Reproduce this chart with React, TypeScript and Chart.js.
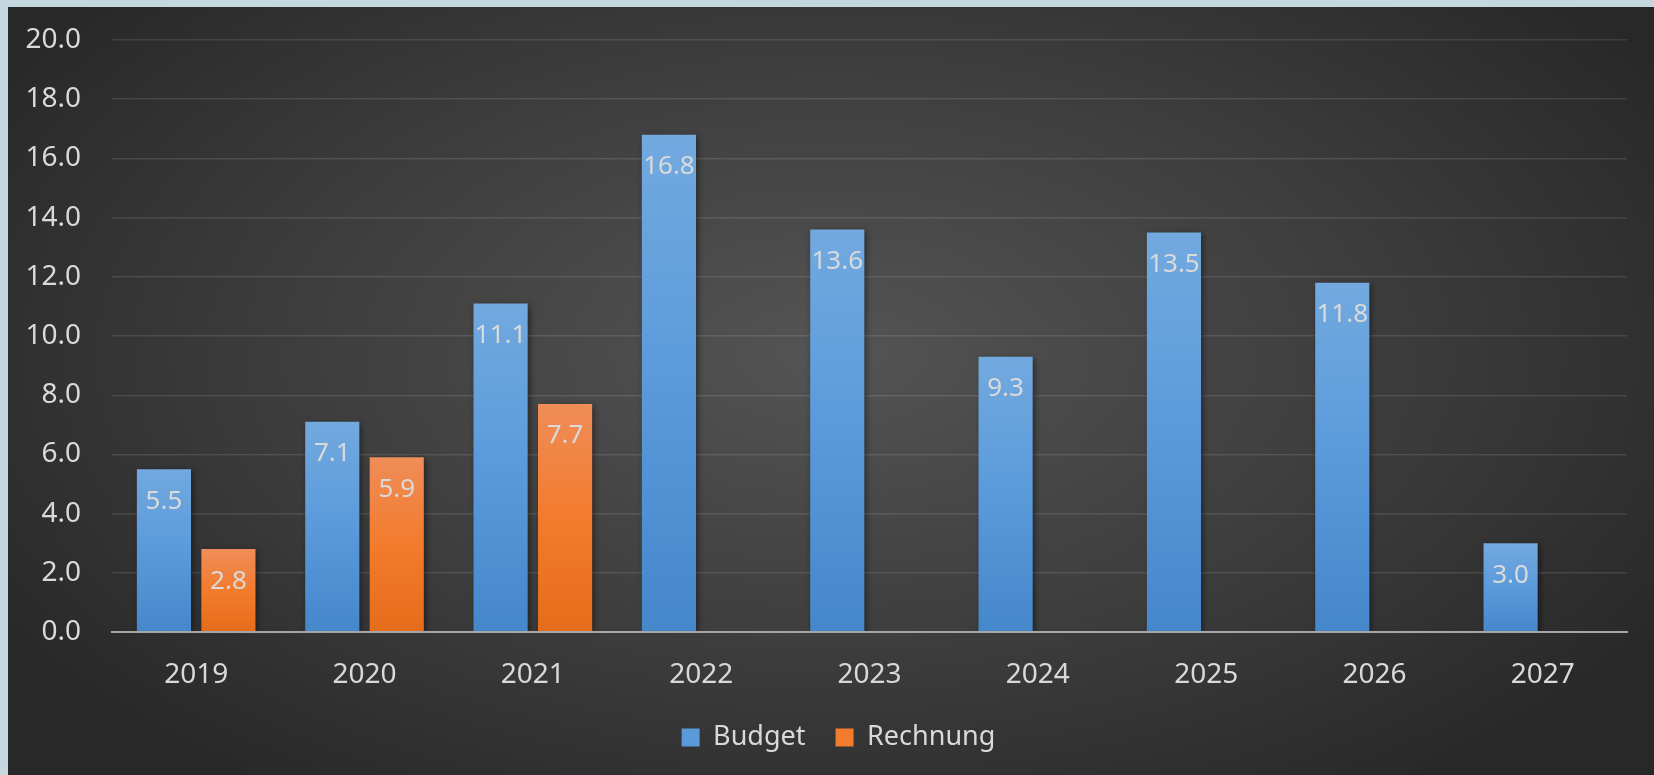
import React, { useEffect, useRef } from "react";
import { Chart, registerables } from "chart.js";

Chart.register(...registerables);

const categories = ["2019", "2020", "2021", "2022", "2023", "2024", "2025", "2026", "2027"];
const budget = [5.5, 7.1, 11.1, 16.8, 13.6, 9.3, 13.5, 11.8, 3.0];
const rechnung: (number | null)[] = [2.8, 5.9, 7.7, null, null, null, null, null, null];
const seriesNames = ["Budget", "Rechnung"];
const yMin = 0;
const yMax = 20;
const yStep = 2;

const FONT = "'Noto Sans', 'Open Sans', sans-serif";
const TEXT = "#d9d9d9";

function barGradient(top: string, mid: string, bottom: string) {
  return (ctx: any) => {
    const chart = ctx.chart;
    const y = chart.scales && chart.scales.y;
    if (!chart.chartArea || !y || ctx.raw == null) return bottom;
    const t = y.getPixelForValue(ctx.raw);
    const b = y.getPixelForValue(0);
    const g = chart.ctx.createLinearGradient(0, t, 0, b);
    g.addColorStop(0, top);
    g.addColorStop(0.5, mid);
    g.addColorStop(1, bottom);
    return g;
  };
}

const shadowPlugin = {
  id: "barShadow",
  beforeDatasetsDraw(chart: any) {
    const c = chart.ctx;
    c.save();
    c.shadowColor = "rgba(0,0,0,0.45)";
    c.shadowBlur = 6;
    c.shadowOffsetX = 2;
    c.shadowOffsetY = 2;
  },
  afterDatasetsDraw(chart: any) {
    chart.ctx.restore();
  },
};

const labelPlugin = {
  id: "insideLabels",
  afterDatasetsDraw(chart: any) {
    const c = chart.ctx;
    c.save();
    c.font = `26px ${FONT}`;
    c.fillStyle = "#dadada";
    c.textAlign = "center";
    c.textBaseline = "middle";
    chart.data.datasets.forEach((ds: any, di: number) => {
      const meta = chart.getDatasetMeta(di);
      meta.data.forEach((el: any, i: number) => {
        const v = ds.data[i];
        if (v == null) return;
        c.fillText(Number(v).toFixed(1), el.x, el.y + 32);
      });
    });
    c.restore();
  },
};

const legendShift = {
  id: "legendShift",
  afterLayout(chart: any) {
    const lg = chart.legend;
    if (lg) {
      lg.left += 21;
      lg.right += 21;
    }
  },
};

export default function App() {
  const ref = useRef<HTMLCanvasElement | null>(null);
  useEffect(() => {
    if (!ref.current) return;
    const chart = new Chart(ref.current, {
      type: "bar",
      data: {
        labels: categories,
        datasets: [
          {
            label: seriesNames[0],
            data: budget,
            backgroundColor: barGradient("#72a9df", "#5a9adb", "#4587cb"),
            borderWidth: 0,
          },
          {
            label: seriesNames[1],
            data: rechnung,
            backgroundColor: barGradient("#f08d58", "#f27b2d", "#e56c1a"),
            borderWidth: 0,
          },
        ],
      },
      options: {
        animation: false,
        responsive: true,
        maintainAspectRatio: false,
        layout: { padding: { top: 33, right: 27, left: 0, bottom: 14 } },
        datasets: {
          bar: { categoryPercentage: 0.766, barPercentage: 0.84 },
        },
        plugins: {
          legend: {
            position: "bottom",
            labels: {
              color: TEXT,
              font: { family: FONT, size: 27 },
              boxWidth: 18,
              boxHeight: 18,
              padding: 30,
              generateLabels: (ch: any) =>
                ch.data.datasets.map((ds: any, i: number) => ({
                  text: ds.label,
                  fillStyle: i === 0 ? "#5a9adb" : "#f27b2d",
                  strokeStyle: "transparent",
                  lineWidth: 0,
                  fontColor: TEXT,
                  datasetIndex: i,
                  hidden: false,
                })),
            },
          },
          tooltip: { enabled: false },
        },
        scales: {
          x: {
            grid: { display: false },
            border: { display: true, color: "#a6a6a6", width: 2, z: 1 },
            ticks: { color: TEXT, font: { family: FONT, size: 28 }, padding: 18 },
            afterFit: (s: any) => {
              s.height = 62;
            },
          },
          y: {
            min: yMin,
            max: yMax,
            grid: {
              color: "rgba(255,255,255,0.11)",
              lineWidth: 1.4,
              drawTicks: true,
              tickLength: 23,
              tickColor: "rgba(0,0,0,0)",
            },
            border: { display: false },
            ticks: {
              stepSize: yStep,
              color: TEXT,
              font: { family: FONT, size: 28 },
              padding: 8,
              callback: (v: any) => Number(v).toFixed(1),
            },
            afterFit: (s: any) => {
              s.width = 104;
            },
          },
        },
      },
      plugins: [shadowPlugin, labelPlugin, legendShift],
    });
    return () => chart.destroy();
  }, []);

  return (
    <div style={{ position: "fixed", left: 0, top: 0, width: 1654, height: 775, background: "#c5d7df", overflow: "hidden" }}>
      <div
        style={{
          position: "absolute",
          left: 8,
          top: 7,
          width: 1646,
          height: 768,
          background: "radial-gradient(ellipse 60% 70% at 50% 45%, #545454 0%, #3d3d3d 55%, #282828 100%)",
        }}
      >
        <canvas ref={ref} />
      </div>
    </div>
  );
}
